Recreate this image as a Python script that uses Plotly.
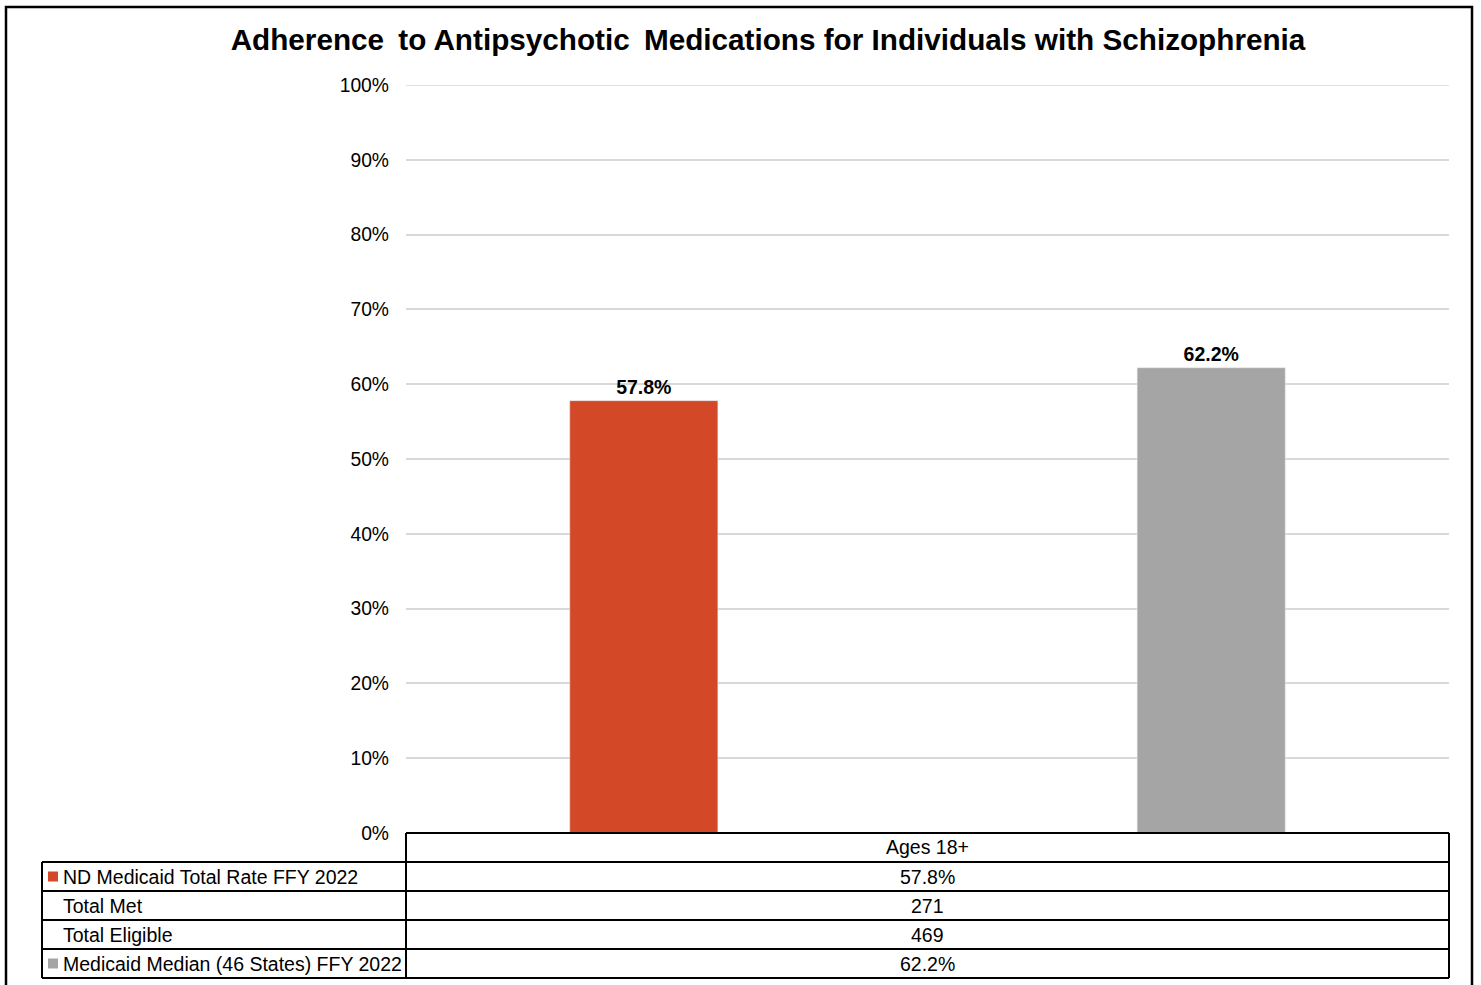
import plotly.graph_objects as go

# ---------------- data ----------------
categories = ["Ages 18+"]
series_names = ["ND Medicaid Total Rate FFY 2022", "Medicaid Median (46 States) FFY 2022"]
nd_rate = [57.8]
median_rate = [62.2]
total_met = [271]
total_eligible = [469]
row_labels = [series_names[0], "Total Met", "Total Eligible", series_names[1]]
colors = ["#D34827", "#A5A5A5"]
y_ticks = list(range(0, 101, 10))

FONT = "Liberation Sans, Arial, sans-serif"
W, H = 1481, 985
L, R, T, B = 406, 32, 85, 152
PW, PH = W - L - R, H - T - B


def px_x(x):
    return (x - L) / PW


def px_y(y):
    return (H - B - y) / PH


fig = go.Figure()
bar_w = 0.142
for vals, name, col, off in ((nd_rate, series_names[0], colors[0], -0.272),
                             (median_rate, series_names[1], colors[1], 0.272)):
    fig.add_trace(go.Bar(
        x=categories, y=vals, name=name, marker_color=col,
        width=bar_w, offset=off - bar_w / 2,
        text=[f"{v:.1f}%" for v in vals], textposition="outside",
        textfont=dict(family=FONT, size=19.5, color="#000000", weight="bold"),
        cliponaxis=False,
    ))

shapes = []
ann = []
line = dict(color="#000000", width=2)

# top gridline (100%)
shapes.append(dict(type="line", xref="paper", yref="y", x0=0, x1=1, y0=100, y1=100,
                   line=dict(color="#D9D9D9", width=1.5), layer="below"))

# table geometry (pixels)
x_left, x_mid, x_right = 42, 406, 1449
row_tops = [833, 862, 891, 920, 949, 978]

shapes.append(dict(type="line", xref="paper", yref="paper", x0=px_x(x_mid), x1=px_x(x_right),
                   y0=px_y(row_tops[0]), y1=px_y(row_tops[0]), line=line))
for yy in row_tops[1:]:
    shapes.append(dict(type="line", xref="paper", yref="paper", x0=px_x(x_left), x1=px_x(x_right),
                       y0=px_y(yy), y1=px_y(yy), line=line))
shapes.append(dict(type="line", xref="paper", yref="paper", x0=px_x(x_left), x1=px_x(x_left),
                   y0=px_y(row_tops[1]), y1=px_y(row_tops[-1]), line=line))
for xx in (x_mid, x_right):
    shapes.append(dict(type="line", xref="paper", yref="paper", x0=px_x(xx), x1=px_x(xx),
                       y0=px_y(row_tops[0]), y1=px_y(row_tops[-1]), line=line))

TF = dict(family=FONT, size=19.5, color="#000000")
ann.append(dict(text=categories[0], xref="paper", yref="paper", x=px_x((x_mid + x_right) / 2),
                y=px_y((row_tops[0] + row_tops[1]) / 2), showarrow=False, xanchor="center",
                yanchor="middle", font=TF))

values = [f"{nd_rate[0]:.1f}%", str(total_met[0]), str(total_eligible[0]), f"{median_rate[0]:.1f}%"]
for i, (lab, val) in enumerate(zip(row_labels, values)):
    yc = (row_tops[i + 1] + row_tops[i + 2]) / 2
    ann.append(dict(text=lab, xref="paper", yref="paper", x=px_x(61), y=px_y(yc), showarrow=False,
                    xanchor="left", yanchor="middle", font=TF))
    ann.append(dict(text=val, xref="paper", yref="paper", x=px_x((x_mid + x_right) / 2), y=px_y(yc),
                    showarrow=False, xanchor="center", yanchor="middle", font=TF))

for i, c in zip((0, 3), colors):
    yc = (row_tops[i + 1] + row_tops[i + 2]) / 2
    shapes.append(dict(type="rect", xref="paper", yref="paper", x0=px_x(48), x1=px_x(58),
                       y0=px_y(yc - 5), y1=px_y(yc + 5), fillcolor=c, line=dict(width=0)))

# outer border
shapes.append(dict(type="rect", xref="paper", yref="paper", x0=px_x(6), x1=px_x(1472),
                   y0=px_y(995), y1=px_y(7), line=dict(color="#000000", width=2.5),
                   fillcolor="rgba(0,0,0,0)"))

fig.update_layout(
    width=W, height=H, autosize=False,
    margin=dict(l=L, r=R, t=T, b=B, pad=0),
    paper_bgcolor="#FFFFFF", plot_bgcolor="#FFFFFF",
    barmode="group", showlegend=False,
    title=dict(text="<b>Adherence\u2009 to Antipsychotic\u2009 Medications for Individuals with Schizophrenia</b>",
               x=768 / W, xanchor="center", xref="container",
               y=1 - 40 / H, yanchor="middle", yref="container",
               font=dict(family=FONT, size=29.7, color="#000000")),
    xaxis=dict(range=[-0.5, 0.5], showticklabels=False, showgrid=False, zeroline=False,
               showline=False, ticks=""),
    yaxis=dict(range=[0, 100], tickvals=y_ticks, ticktext=[f"{v}%" for v in y_ticks],
               showgrid=True, gridcolor="#D9D9D9", gridwidth=1.5, zeroline=False, showline=False,
               ticks="", ticklabelstandoff=16,
               tickfont=dict(family=FONT, size=19.3, color="#000000")),
    shapes=shapes, annotations=ann,
)

fig.write_html("out.html", config={"displayModeBar": False},
               post_script="document.body.style.margin='0';")
